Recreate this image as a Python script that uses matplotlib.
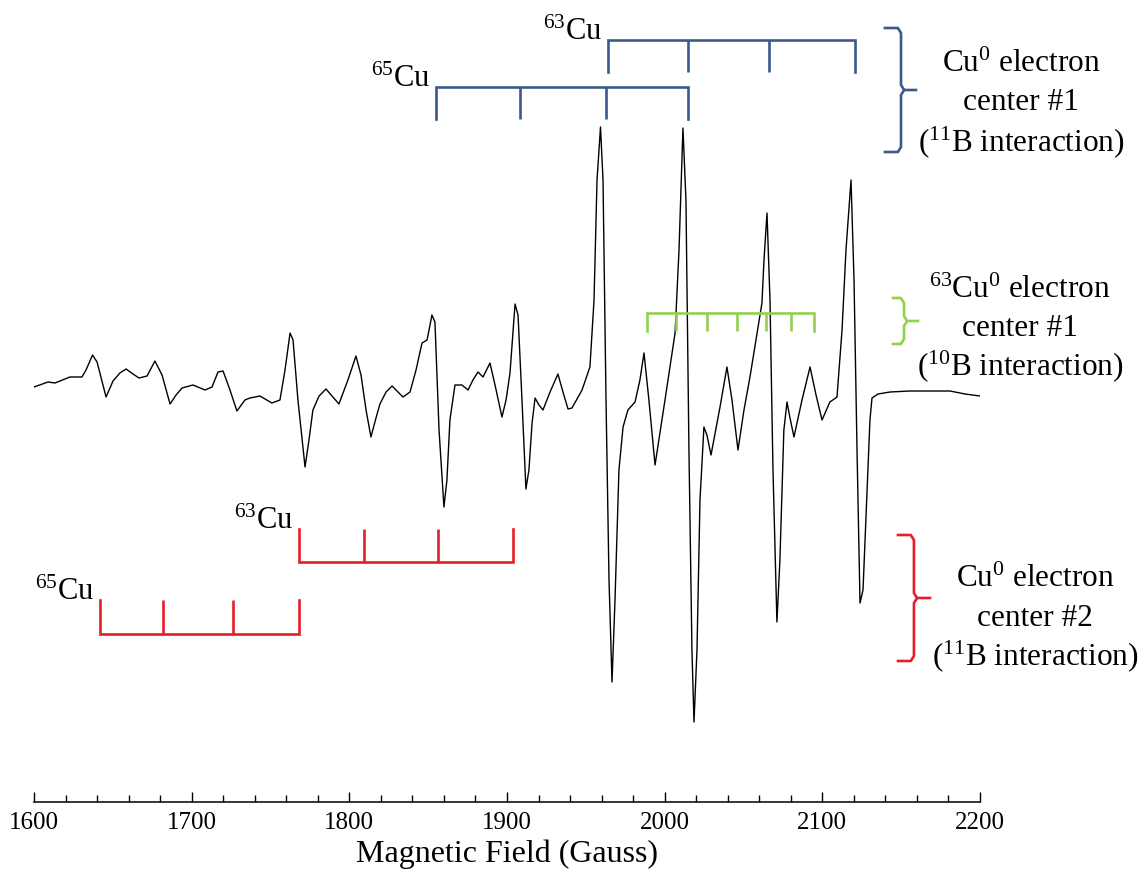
import numpy as np
import matplotlib.pyplot as plt
from matplotlib.ticker import MultipleLocator

plt.rcParams['font.family'] = ['Liberation Serif', 'DejaVu Serif']
plt.rcParams['mathtext.default'] = 'regular'

# EPR spectrum (field in Gauss, signal in arbitrary units)
field = [1600.0, 1608.9, 1613.3, 1616.5, 1622.8, 1630.4, 1633.0, 1637.1, 1640.0, 1645.7,
         1650.1, 1654.5, 1658.4, 1662.8, 1666.6, 1671.7, 1676.7, 1681.2, 1686.3, 1690.1,
         1693.9, 1700.8, 1708.5, 1712.9, 1716.7, 1719.9, 1724.3, 1728.7, 1733.8, 1737.0,
         1743.3, 1750.9, 1756.0, 1759.2, 1762.4, 1764.3, 1767.4, 1771.9, 1774.4, 1776.9,
         1780.8, 1785.2, 1789.0, 1793.4, 1799.1, 1804.2, 1807.4, 1810.6, 1813.7, 1816.9,
         1819.4, 1823.3, 1827.1, 1830.9, 1834.0, 1838.5, 1842.3, 1846.1, 1849.3, 1852.4,
         1854.3, 1856.9, 1860.0, 1861.9, 1863.8, 1867.0, 1871.4, 1875.3, 1878.4, 1881.6,
         1884.8, 1889.2, 1892.4, 1896.8, 1899.4, 1901.9, 1905.1, 1907.0, 1909.5, 1912.0,
         1913.9, 1915.9, 1917.8, 1920.3, 1922.8, 1927.3, 1932.3, 1935.5, 1938.7, 1941.2,
         1947.6, 1952.6, 1955.2, 1957.1, 1959.3, 1960.9, 1962.8, 1964.7, 1966.6, 1968.5,
         1971.0, 1973.6, 1976.7, 1981.2, 1984.3, 1986.9, 1990.0, 1993.9, 2000.2, 2006.6,
         2009.1, 2011.6, 2013.5, 2015.4, 2017.3, 2018.6, 2020.5, 2022.4, 2024.9, 2026.8,
         2029.4, 2035.1, 2039.5, 2042.7, 2046.5, 2050.3, 2054.1, 2057.9, 2061.7, 2063.0,
         2064.9, 2066.8, 2068.7, 2071.2, 2073.1, 2074.4, 2075.6, 2077.6, 2079.5, 2082.0,
         2087.1, 2092.2, 2096.0, 2099.8, 2104.8, 2109.3, 2112.5, 2115.0, 2118.2, 2120.1,
         2122.0, 2123.9, 2125.8, 2128.3, 2130.2, 2131.5, 2135.3, 2142.9, 2155.6, 2168.3,
         2181.0, 2190.5, 2200.0]
signal = [8, 13, 12, 14, 18, 18, 25, 40, 33, -2,
          14, 22, 26, 21, 17, 19, 34, 20, -9, 0,
          7, 10, 5, 8, 23, 24, 5, -16, -5, -3,
          -1, -8, -5, 25, 62, 55, -5, -72, -45, -15,
          -1, 6, -1, -9, 15, 39, 20, -15, -42, -23,
          -9, 3, 9, 3, -2, 3, 25, 52, 55, 80,
          73, -35, -112, -85, -25, 10, 10, 5, 15, 23,
          18, 32, 10, -22, -5, 22, 91, 80, -5, -94,
          -75, -28, -3, -10, -15, 3, 21, 3, -14, -13,
          5, 28, 95, 215, 268, 215, -5, -185, -287, -205,
          -75, -32, -15, -7, 15, 42, -5, -70, -5, 62,
          145, 267, 195, -55, -255, -327, -255, -105, -32, -40,
          -60, -12, 28, -5, -55, -15, 18, 55, 92, 135,
          182, 95, -75, -227, -165, -98, -35, -7, -23, -42,
          -5, 28, 0, -25, -7, -2, 65, 145, 215, 115,
          -55, -208, -195, -98, -25, -3, 1, 3, 4, 4,
          4, 1, -1]

# stick diagrams (line positions in Gauss)
blue_63 = [1964, 2015, 2066, 2121]
blue_65 = [1855, 1908, 1963, 2015]
green_63 = [1989, 2007, 2027, 2046, 2064, 2080, 2095]
red_63 = [1768, 1809, 1856, 1904]
red_65 = [1642, 1682, 1726, 1768]

BLUE = '#3a5a8a'
GREEN = '#92d050'
RED = '#e3202a'

fig = plt.figure(figsize=(11.41, 8.73), dpi=100)
ax = fig.add_axes([34 / 1141, 71 / 873, 946 / 1141, 802 / 873])

ax.plot(field, signal, color='black', lw=1.0)


def stick(xs, y_line, y_tick, color, label=None):
    ax.plot([xs[0], xs[0], xs[-1], xs[-1]], [y_tick, y_line, y_line, y_tick],
            color=color, lw=1.9, solid_joinstyle='miter', clip_on=False)
    for x in xs[1:-1]:
        ax.plot([x, x], [y_line, y_tick], color=color, lw=1.9,
                solid_capstyle='butt', clip_on=False)
    if label:
        ax.text(xs[0] - 3.5, max(y_line, y_tick), label, ha='right', va='baseline',
                fontsize=22)


stick(blue_63, 355, 323, BLUE, r'$^{63}$Cu')
stick(blue_65, 308, 276, BLUE, r'$^{65}$Cu')
stick(green_63, 82, 64, GREEN)
stick(red_63, -167, -134, RED, r'$^{63}$Cu')
stick(red_65, -239, -205, RED, r'$^{65}$Cu')


def brace(x0, xv, xt, ytop, ybot, ytip, color):
    dx = 2.0
    dy = 5.0
    xs = [x0, xv - dx, xv, xv, xv + dx, xt]
    ys = [ytop, ytop, ytop - dy, ytip + dy, ytip, ytip]
    ax.plot(xs, ys, color=color, lw=1.9, clip_on=False)
    xs = [xv + dx, xv, xv, xv - dx, x0]
    ys = [ytip, ytip - dy, ybot + dy, ybot, ybot]
    ax.plot(xs, ys, color=color, lw=1.9, clip_on=False)


brace(2139.7, 2149.9, 2159.4, 367, 243, 305, BLUE)
brace(2144.8, 2151.8, 2160.7, 97, 51, 74, GREEN)
brace(2148.0, 2158.1, 2168.3, -140, -266, -203, RED)

blocks = [
    (2226.0, [331, 292, 253], ['Cu$^{0}$ electron', 'center #1', '($^{11}$B interaction)']),
    (2225.3, [105, 67, 29], ['$^{63}$Cu$^{0}$ electron', 'center #1', '($^{10}$B interaction)']),
    (2234.9, [-184, -223, -261], ['Cu$^{0}$ electron', 'center #2', '($^{11}$B interaction)']),
]
for xc, ys, lines in blocks:
    for y, s in zip(ys, lines):
        ax.text(xc, y, s, ha='center', va='center', fontsize=22.5)

ax.set_xlim(1600, 2200)
ax.set_ylim(-407, 395)
for side in ['left', 'right', 'top']:
    ax.spines[side].set_visible(False)
ax.spines['bottom'].set_linewidth(1.1)
ax.set_yticks([])
ax.xaxis.set_major_locator(MultipleLocator(100))
ax.xaxis.set_minor_locator(MultipleLocator(20))
ax.tick_params(axis='x', which='major', direction='in', length=7.5, width=1.0,
               labelsize=18, pad=7)
ax.tick_params(axis='x', which='minor', direction='in', length=5, width=1.0)
ax.set_xlabel('Magnetic Field (Gauss)', fontsize=23, labelpad=4)

fig.savefig('out.png', dpi=100)
